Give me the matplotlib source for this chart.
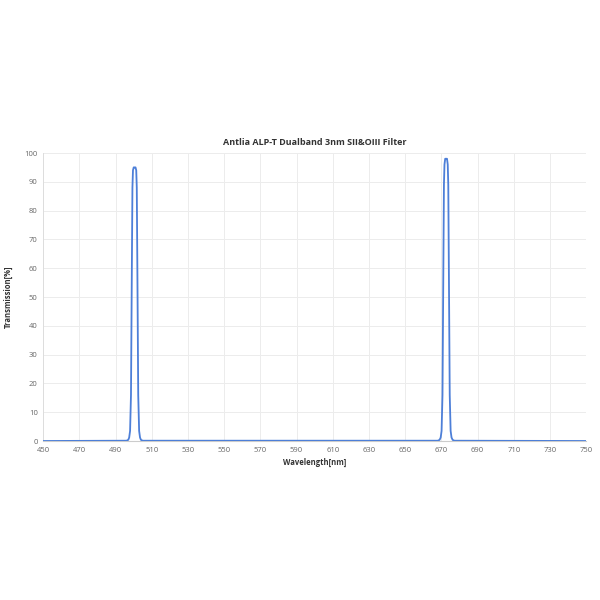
import matplotlib
matplotlib.use("Agg")
import matplotlib.pyplot as plt
import numpy as np

plt.rcParams["font.family"] = ["Open Sans", "DejaVu Sans"]

# transmission curve
wavelength = [450, 496, 497, 497.5, 498, 498.5, 499, 499.3, 499.6, 500.0, 500.5, 501.0, 501.4,
              501.7, 502, 502.5, 503, 503.5, 504, 505, 668, 669, 669.6, 670.1, 670.6, 671.1,
              671.4, 671.7, 672.1, 672.6, 673.1, 673.5, 673.8, 674.1, 674.6, 675.1, 675.6,
              676.2, 677.2, 750]
transmission = [0, 0.1, 0.4, 1.2, 3.5, 16, 62, 88, 94, 95, 95, 95, 94,
                88, 62, 16, 3.5, 1.2, 0.4, 0.1, 0.1, 0.4, 1.2, 3.5, 16, 62,
                89, 96, 98, 98, 98, 96, 89, 62, 16, 3.5, 1.2,
                0.4, 0.1, 0]

x_ticks = list(range(450, 751, 20))
y_ticks = list(range(0, 101, 10))

fig = plt.figure(figsize=(6, 6), dpi=100)
ax = fig.add_axes([0.072, 0.265, 0.905, 0.48])

ax.plot(wavelength, transmission, color="#4d7fd8", linewidth=1.3, zorder=3)

ax.set_xlim(450, 750)
ax.set_ylim(0, 100)
ax.set_xticks(x_ticks)
ax.set_yticks(y_ticks)
ax.tick_params(axis="both", labelsize=5.5, labelcolor="#666666", length=0, pad=4)
ax.grid(True, color="#ececec", linewidth=0.7)
ax.set_axisbelow(True)

for side in ["top", "right"]:
    ax.spines[side].set_visible(False)
ax.spines["left"].set_color("#dddddd")
ax.spines["bottom"].set_color("#cccccc")
ax.spines["left"].set_linewidth(0.7)

ax.set_title("Antlia ALP-T Dualband 3nm SII&OIII Filter", fontsize=6.5, fontweight="bold",
             color="#333333", pad=6)
ax.set_xlabel("Wavelength[nm]", fontsize=5.5, fontweight="bold", color="#333333", labelpad=3)
ax.set_ylabel("Transmission[%]", fontsize=5.5, fontweight="bold", color="#333333", labelpad=8)

fig.savefig("out.png", dpi=100, facecolor="white")
